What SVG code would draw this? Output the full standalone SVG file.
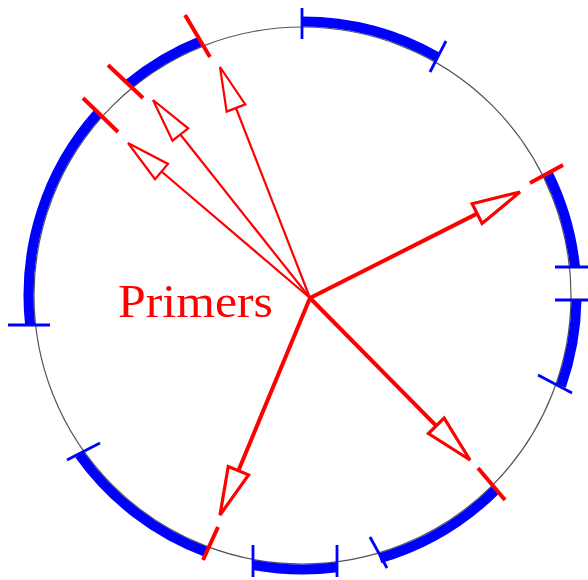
<svg xmlns="http://www.w3.org/2000/svg" width="588" height="580" viewBox="0 0 588 580">
<style>
.ring{fill:none;stroke:#555;stroke-width:1.2}
.band{fill:none;stroke:#0000ff;stroke-width:10}
.btick{stroke:#0000ff;stroke-width:2.8}
.rtick{stroke:#ff0000;stroke-width:4}
.thin{stroke:#ff0000;stroke-width:2.2}
.thick{stroke:#ff0000;stroke-width:4}
.headthin{fill:#fff;stroke:#ff0000;stroke-width:2.2;stroke-linejoin:miter}
.headthick{fill:#fff;stroke:#ff0000;stroke-width:3.2;stroke-linejoin:miter}
.label{font-family:"Liberation Serif","DejaVu Serif",serif;font-size:47px;fill:#ff0000}
</style>
<rect width="588" height="580" fill="#fff"/>
<g id="plasmid">
<circle class="ring" cx="302.5" cy="295.5" r="268.5"/>
</g>
<g id="segments">
<path class="band" d="M302.0,21.5 A274,274 0 0 1 437.4,57.0"/>
<path class="band" d="M547.9,173.5 A274,274 0 0 1 575.0,267.0"/>
<path class="band" d="M576.5,300 A274,274 0 0 1 561.1,386.1"/>
<path class="band" d="M496.4,489.1 A274,274 0 0 1 379.8,558.3"/>
<path class="band" d="M337,567.3 A274,274 0 0 1 253,565.0"/>
<path class="band" d="M206.9,552.3 A274,274 0 0 1 79.4,454.6"/>
<path class="band" d="M30.1,325 A274,274 0 0 1 98.2,112.9"/>
<path class="band" d="M128.6,83.8 A274,274 0 0 1 201.4,40.8"/>
</g>
<g id="blue-ticks">
<line class="btick" x1="302" y1="8" x2="302" y2="39"/>
<line class="btick" x1="430" y1="72" x2="446" y2="41"/>
<line class="btick" x1="555" y1="267" x2="588" y2="267"/>
<line class="btick" x1="555" y1="300" x2="588" y2="300"/>
<line class="btick" x1="538" y1="375" x2="572" y2="393"/>
<line class="btick" x1="370" y1="537" x2="387" y2="568"/>
<line class="btick" x1="337" y1="545" x2="337" y2="577"/>
<line class="btick" x1="253" y1="545" x2="253" y2="577"/>
<line class="btick" x1="67" y1="460" x2="100" y2="443"/>
<line class="btick" x1="8" y1="325" x2="50" y2="325"/>
</g>
<g id="primer-sites">
<line class="rtick" x1="185" y1="15" x2="210" y2="57"/>
<line class="rtick" x1="108" y1="65" x2="143" y2="98"/>
<line class="rtick" x1="83" y1="98" x2="118" y2="132"/>
<line class="rtick" x1="530" y1="183" x2="563" y2="165"/>
<line class="rtick" x1="478" y1="468" x2="505" y2="500"/>
<line class="rtick" x1="218" y1="527" x2="203" y2="560"/>
</g>
<g id="connectors">
<line class="thin" x1="310" y1="298" x2="235.97" y2="108.0"/>
<polygon class="headthin" points="220,67 245.29,104.37 226.65,111.63"/>
<line class="thin" x1="310" y1="298" x2="180.34" y2="134.48"/>
<polygon class="headthin" points="153,100 188.2,128.3 172.5,140.7"/>
<line class="thin" x1="310" y1="298" x2="161.5" y2="171.53"/>
<polygon class="headthin" points="128,143 167.98,163.92 155.02,179.14"/>
<line class="thick" x1="310" y1="298" x2="477.15" y2="213.63"/>
<polygon class="headthick" points="520,192 482.1,223.5 472.2,203.8"/>
<line class="thick" x1="310" y1="298" x2="436.27" y2="425.85"/>
<polygon class="headthick" points="470,460 428.44,433.58 444.10,418.12"/>
<line class="thick" x1="310" y1="298" x2="238.39" y2="470.66"/>
<polygon class="headthick" points="220,515 228.23,466.45 248.55,474.87"/>
</g>
<g id="label">
<text class="label" x="118" y="317" textLength="155" lengthAdjust="spacingAndGlyphs">Primers</text>
</g>
</svg>
